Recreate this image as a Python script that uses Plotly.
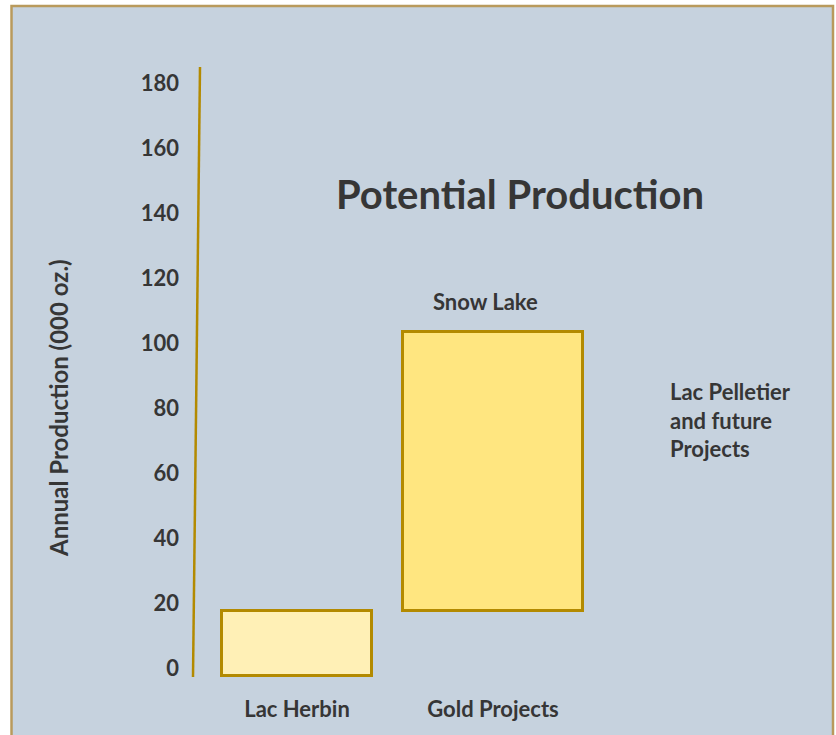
import plotly.graph_objects as go

# Data
categories = ["Lac Herbin", "Gold Projects"]
bar_bases = [0, 20]
bar_values = [20, 86]
bar_widths = [0.765, 0.923]
bar_fills = ["#fff0b6", "#ffe680"]
top_labels = ["", "Snow Lake"]
extra_label = "Lac Pelletier<br>and future<br>Projects"
tick_vals = [0, 20, 40, 60, 80, 100, 120, 140, 160, 180]
tick_text = [str(v) for v in tick_vals]
title_text = "Potential Production"
y_title = "Annual Production (000 oz.)"

FONT = "Lato"
TXT = "#363636"
GOLD = "#b38a00"
H = 735
PLOT_BOTTOM = 694  # pixel of plot-area bottom
ZERO_PX = 676
PX_PER_UNIT = 3.25


def f(size):
    return dict(family=FONT, size=size, color=TXT, weight="bold")


fig = go.Figure()
fig.add_trace(go.Bar(
    x=categories, y=bar_values, base=bar_bases, width=bar_widths,
    marker=dict(color=bar_fills, line=dict(color=GOLD, width=3)),
    hoverinfo="skip", showlegend=False,
))

annotations = []
for c, b, v, t in zip(categories, bar_bases, bar_values, top_labels):
    if t:
        annotations.append(dict(x=c, y=b + v, xref="x", yref="y", text=t, showarrow=False,
                                yshift=30, xshift=-8, font=f(22)))
annotations.append(dict(x=668 / 836, y=1 - 420 / H, xref="paper", yref="paper", text=extra_label,
                        showarrow=False, xanchor="left", yanchor="middle", align="left",
                        font=f(22)))
annotations.append(dict(x=520 / 836, y=1 - 194 / H, xref="paper", yref="paper", text=title_text,
                        showarrow=False, xanchor="center", yanchor="middle", font=f(40)))
annotations.append(dict(x=58 / 836, y=1 - 408 / H, xref="paper", yref="paper", text=y_title,
                        textangle=-90, showarrow=False, xanchor="center", yanchor="middle", font=f(24)))

shapes = [
    dict(type="rect", xref="paper", yref="paper", x0=11.5 / 836, x1=833 / 836, y0=-0.1, y1=1 - 6 / H,
         line=dict(color="#b99a5c", width=2.5), fillcolor="#c6d2de", layer="below"),
    dict(type="line", xref="paper", yref="y", x0=200 / 836, x1=193 / 836, y0=187.4, y1=-0.3,
         line=dict(color=GOLD, width=2.5), layer="above"),
]

fig.update_layout(
    width=836, height=H,
    margin=dict(l=0, r=0, t=0, b=0, autoexpand=False),
    paper_bgcolor="white", plot_bgcolor="rgba(0,0,0,0)",
    font=dict(family=FONT, color=TXT),
    bargap=0,
    xaxis=dict(range=[-297 / 196, (836 - 297) / 196], showgrid=False, zeroline=False, showline=False,
               ticks="", tickfont=f(22), automargin=False, fixedrange=True),
    yaxis=dict(domain=[(H - PLOT_BOTTOM) / H, 1],
               range=[(ZERO_PX - PLOT_BOTTOM) / PX_PER_UNIT, ZERO_PX / PX_PER_UNIT],
               tickvals=tick_vals, ticktext=tick_text,
               showgrid=False, zeroline=False, showline=False, ticks="", automargin=False,
               anchor="free", position=179 / 836, ticklabelshift=-8,
               tickfont=f(22), fixedrange=True),
    annotations=annotations, shapes=shapes,
)
fig.write_html("out.html", config={"displayModeBar": False},
               post_script="document.body.style.margin='0';document.body.style.overflow='hidden';")
